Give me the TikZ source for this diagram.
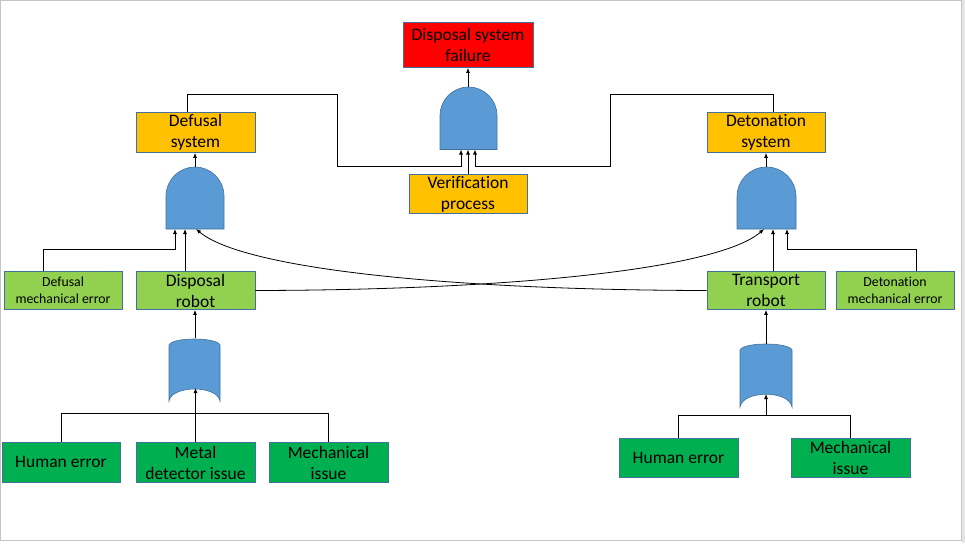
\documentclass[tikz,border=0pt]{standalone}
\usepackage{fontspec}
\setmainfont{Carlito}[Ligatures={NoCommon,NoContextual}]
\usetikzlibrary{arrows.meta}
\definecolor{bordc}{HTML}{41719C}
\definecolor{gatefill}{HTML}{5B9BD5}
\definecolor{topred}{HTML}{FF0000}
\definecolor{amber}{HTML}{FFC000}
\definecolor{lightgreen}{HTML}{92D050}
\definecolor{deepgreen}{HTML}{00B050}
\definecolor{framegray}{HTML}{C4C4C4}
\definecolor{edgegray}{HTML}{E4E4E4}
\newcommand{\lblfont}{\fontsize{17.5}{21}\selectfont}
\newcommand{\smlfont}{\fontsize{13.8}{17}\selectfont}
\begin{document}
\begin{tikzpicture}[x=1pt,y=-1pt,
  box/.style={draw=bordc, line width=0.8pt, inner sep=0pt, align=center,
    text=black, font=\lblfont, minimum width=119pt, minimum height=40pt},
  gate/.style={fill=gatefill, draw=bordc, line width=0.6pt},
  wire/.style={line width=0.8pt, draw=black},
  arr/.style={wire, -{Latex[length=5pt,width=4pt]}}]
\useasboundingbox (0,0) rectangle (965,543);
% page frame
\fill[edgegray] (962,0) rectangle (965,543);
\draw[framegray, line width=1pt] (0.5,0.5) rectangle (961.5,540.5);

% events
\node[box, fill=topred, minimum width=130pt, minimum height=45pt] (fail) at (468,45) {Disposal system\\failure};
\node[box, fill=amber] (def) at (195.5,132.5) {Defusal\\system};
\node[box, fill=amber, minimum width=118pt] (det) at (766,132.5) {Detonation\\system};
\node[box, fill=amber, minimum width=118pt, minimum height=39pt] (ver) at (468,194) {Verification\\process};
\node[box, fill=lightgreen, minimum width=118pt, minimum height=38pt, font=\smlfont] (defmech) at (63,290.5) {Defusal\\mechanical error};
\node[box, fill=lightgreen, minimum height=38pt] (drob) at (195.5,290.5) {Disposal\\robot};
\node[box, fill=lightgreen, minimum width=118pt, minimum height=38pt] (trob) at (766,290.5) {Transport\\robot};
\node[box, fill=lightgreen, minimum width=118pt, minimum height=38pt, font=\smlfont] (detmech) at (895,290.5) {Detonation\\mechanical error};
\node[box, fill=deepgreen, minimum width=118pt] (he1) at (61,462) {Human error};
\node[box, fill=deepgreen] (md) at (195.5,462.5) {Metal\\detector issue};
\node[box, fill=deepgreen] (mi1) at (328.5,462.5) {Mechanical\\issue};
\node[box, fill=deepgreen, minimum height=39pt] (he2) at (678.5,457.5) {Human error};
\node[box, fill=deepgreen, minimum height=39pt] (mi2) at (850.5,458) {Mechanical\\issue};

% AND gates
\path[gate] (440,149.5) -- (440,115.5) .. controls (440,99.8) and (452.8,87) .. (468.5,87)
  .. controls (484.2,87) and (497,99.8) .. (497,115.5) -- (497,149.5) -- cycle;
\path[gate] (166,229) -- (166,196) .. controls (166,180) and (179,167) .. (195,167)
  .. controls (211,167) and (224,180) .. (224,196) -- (224,229) -- cycle;
\path[gate] (737,229) -- (737,196.5) .. controls (737,180.2) and (750.2,167) .. (766.5,167)
  .. controls (782.8,167) and (796,180.2) .. (796,196.5) -- (796,229) -- cycle;
% OR gates
\path[gate] (169,401) -- (169,345) .. controls (172,337) and (217,337) .. (220,345)
  -- (220,401) .. controls (217,385) and (172,385) .. (169,401) -- cycle;
\path[gate] (740,407) -- (740,350) .. controls (743,342) and (789,342) .. (792,350)
  -- (792,407) .. controls (789,390) and (743,390) .. (740,407) -- cycle;

% gate ports
\coordinate (gT) at (468,87);
\coordinate (gTa) at (461,149.5);
\coordinate (gTb) at (468,149.5);
\coordinate (gTc) at (475,149.5);
\coordinate (gL) at (195,167);
\coordinate (gLa) at (175,229);
\coordinate (gLb) at (185,229);
\coordinate (gLc) at (196,229);
\coordinate (gR) at (766,167);
\coordinate (gRa) at (764,229);
\coordinate (gRb) at (773,229);
\coordinate (gRc) at (787,229);
\coordinate (oLt) at (195,338);
\coordinate (oLb) at (195,388);
\coordinate (oRt) at (766,344);
\coordinate (oRb) at (766,394);
\coordinate (jR) at (766,416);

% top level
\draw[arr] (gT) -- (gT |- fail.south);
\draw[arr] (ver.north) -- (gTb);
\draw[arr] ([xshift=-8.5pt]def.north) -- ++(0,-18) -| (337,166) -| (gTa);
\draw[arr] ([xshift=7pt]det.north) -- ++(0,-18) -| (610,166) -| (gTc);

% defusal branch
\draw[arr] (gL) -- (gL |- def.south);
\draw[arr] ([xshift=-20pt]defmech.north) -- ++(0,-22) -| (gLa);
\draw[arr] (drob.north -| gLb) -- (gLb);
\draw[arr] (trob.west) .. controls (442,290) and (242,268) .. (gLc);

% detonation branch
\draw[arr] (gR) -- (gR |- det.south);
\draw[arr] (drob.east) .. controls (520,290) and (720,268) .. (gRa);
\draw[arr] (trob.north -| gRb) -- (gRb);
\draw[arr] ([xshift=21pt]detmech.north) -- ++(0,-22) -| (gRc);

% robot causes
\draw[arr] (oLt) -- (oLt |- drob.south);
\draw[wire] (he1.north) -- ++(0,-28) -| (mi1.north);
\draw[arr] (md.north) -- (md.north |- oLb);
\draw[arr] (oRt) -- (oRt |- trob.south);
\draw[wire] (he2.north) -- ++(0,-22) -| (mi2.north);
\draw[arr] (jR) -- (oRb);
\end{tikzpicture}
\end{document}
